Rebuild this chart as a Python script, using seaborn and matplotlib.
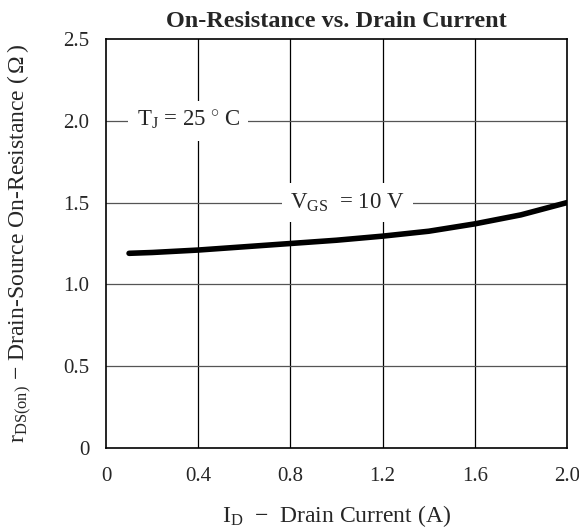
import numpy as np
import pandas as pd
import matplotlib
matplotlib.use("Agg")
import matplotlib.pyplot as plt
import seaborn as sns

# curve
drain_current = [0.1, 0.2, 0.4, 0.6, 0.8, 1.0, 1.2, 1.4, 1.6, 1.8, 2.0]
on_resistance = [1.19, 1.195, 1.21, 1.23, 1.25, 1.27, 1.295, 1.325, 1.37, 1.425, 1.50]

x_ticks = [0, 0.4, 0.8, 1.2, 1.6, 2.0]
x_labels = ["0", "0.4", "0.8", "1.2", "1.6", "2.0"]
y_ticks = [0, 0.5, 1.0, 1.5, 2.0, 2.5]
y_labels = ["0", "0.5", "1.0", "1.5", "2.0", "2.5"]

sns.set_style("white")
plt.rcParams["font.family"] = ["Liberation Serif", "DejaVu Serif"]
plt.rcParams["mathtext.fontset"] = "custom"
plt.rcParams["mathtext.rm"] = "Liberation Serif"
plt.rcParams["mathtext.it"] = "Liberation Serif:italic"

df = pd.DataFrame({"id": drain_current, "rds": on_resistance})

fig = plt.figure(figsize=(5.79, 5.29), dpi=100)
ax = fig.add_axes([106 / 579, 1 - 448 / 529, 461 / 579, 409 / 529])

for xv in x_ticks[1:-1]:
    ax.axvline(xv, color="black", lw=0.9, zorder=1)
for yv in y_ticks[1:-1]:
    ax.axhline(yv, color="#555555", lw=0.9, zorder=1)

sns.lineplot(data=df, x="id", y="rds", ax=ax, color="black", lw=4, zorder=3)

ax.set_xlim(0, 2.0)
ax.set_ylim(0, 2.5)
ax.set_xticks(x_ticks)
ax.set_xticklabels(x_labels, fontsize=15)
ax.set_yticks(y_ticks)
ax.set_yticklabels(y_labels, fontsize=15)
ax.tick_params(axis="y", length=0, pad=12)
ax.tick_params(axis="x", length=0, pad=14)

for s in ax.spines.values():
    s.set_color("black")
    s.set_linewidth(1.2)

bbox = dict(facecolor="white", edgecolor="none", pad=6)
ax.text(0.356, 2.0, r"T$_\mathrm{J}$ = 25$\,^\circ\,$C", fontsize=16.5, ha="center", va="center",
        bbox=bbox, zorder=2)
ax.text(1.046, 1.5, r"V$_\mathrm{GS}$  = 10 V", fontsize=16.5, ha="center", va="center",
        bbox=bbox, zorder=2)

ax.set_title("On-Resistance vs. Drain Current", fontsize=17.5, fontweight="bold",
             y=(448 - 22) / 409, va="center", pad=0)
ax.set_xlabel(r"I$_\mathrm{D}$  $-$  Drain Current (A)", fontsize=17, va="center")
ax.xaxis.set_label_coords(0.5, (448 - 516) / 409)
ax.set_ylabel(r"r$_\mathrm{DS(on)}$ $-$ Drain-Source On-Resistance ($\,\Omega\,$)", fontsize=17,
              va="center")
ax.yaxis.set_label_coords((20 - 106) / 461, 0.5)

fig.savefig("out.png", dpi=100)
